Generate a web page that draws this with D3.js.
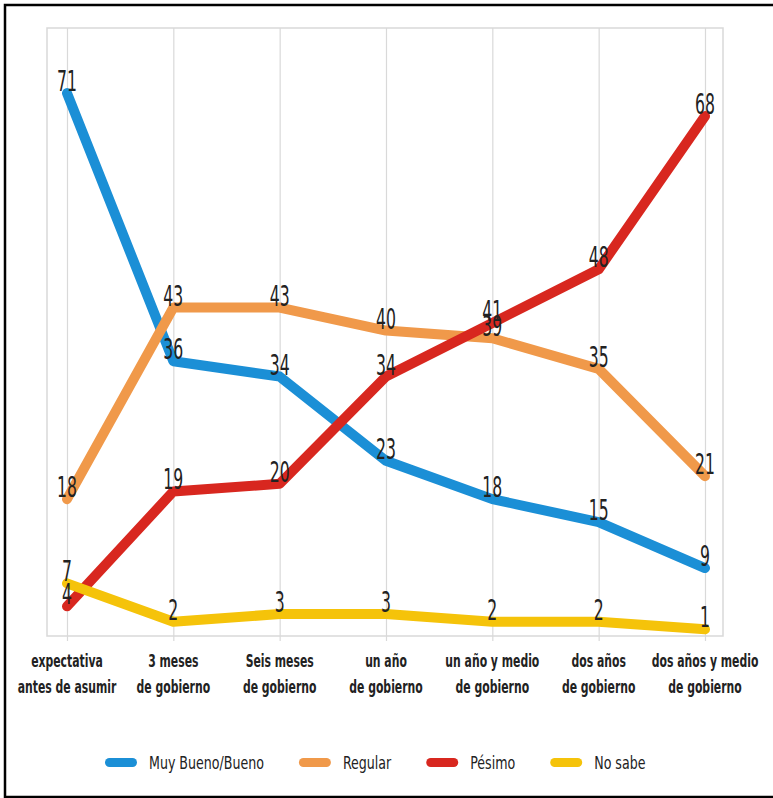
<!DOCTYPE html>
<html>
<head>
<meta charset="utf-8">
<script src="https://cdn.jsdelivr.net/npm/d3@7"></script>
<style>
  html, body { margin: 0; padding: 0; background: #fff; }
  svg { display: block; }
</style>
</head>
<body>
<script>
// categorías del eje x (dos renglones cada una)
const categories = [
  ['expectativa', 'antes de asumir'],
  ['3 meses', 'de gobierno'],
  ['Seis meses', 'de gobierno'],
  ['un año', 'de gobierno'],
  ['un año y medio', 'de gobierno'],
  ['dos años', 'de gobierno'],
  ['dos años y medio', 'de gobierno']
]

const seriesNames = ['Muy Bueno/Bueno', 'Regular', 'Pésimo', 'No sabe']
const muyBueno = [71, 36, 34, 23, 18, 15, 9]
const regular = [18, 43, 43, 40, 39, 35, 21]
const pesimo = [4, 19, 20, 34, 41, 48, 68]
const noSabe = [7, 2, 3, 3, 2, 2, 1]
const seriesColors = ['#1b8fd6', '#f0994a', '#d8271f', '#f5c30a']

const series = seriesNames.map((name, i) => ({
  name,
  color: seriesColors[i],
  values: [muyBueno, regular, pesimo, noSabe][i]
}))

const W = 773
const H = 798
const plot = { left: 47, right: 723, top: 28, bottom: 636 }
const fontFamily = '"DejaVu Sans Condensed", "Liberation Sans", sans-serif'

const svg = d3.select('body')
  .append('svg')
  .attr('width', W)
  .attr('height', H)

// marco exterior (izquierda, arriba, abajo)
svg.append('path')
  .attr('d', `M${W},5 H5 V797 H${W}`)
  .attr('fill', 'none')
  .attr('stroke', '#000')
  .attr('stroke-width', 2.5)

const xScale = d3.scalePoint()
  .domain(d3.range(categories.length))
  .range([67, 705])

const yScale = d3.scaleLinear()
  .domain([0, 79.5])
  .range([637, plot.top])

// área de trazado
svg.append('rect')
  .attr('x', plot.left)
  .attr('y', plot.top)
  .attr('width', plot.right - plot.left)
  .attr('height', plot.bottom - plot.top)
  .attr('fill', 'none')
  .attr('stroke', '#d9d9d9')
  .attr('stroke-width', 1.5)

// líneas verticales de cuadrícula
svg.append('g')
  .attr('class', 'grid')
  .attr('transform', `translate(0,${plot.bottom + 5})`)
  .call(d3.axisBottom(xScale).tickSize(-(plot.bottom + 5 - plot.top)).tickFormat(''))
  .call(g => g.select('.domain').remove())
  .call(g => g.selectAll('line').attr('stroke', '#d9d9d9').attr('stroke-width', 1.2))

// etiquetas del eje x
const xLabels = svg.append('g')
  .attr('font-family', fontFamily)
  .attr('font-weight', 'bold')
  .attr('font-size', 17)
  .attr('fill', '#222')
  .attr('text-anchor', 'middle')

categories.forEach((lines, i) => {
  lines.forEach((line, j) => {
    xLabels.append('text')
      .attr('transform', `translate(${xScale(i)},${667 + j * 26}) scale(0.71,1)`)
      .text(line)
  })
})

// líneas de las series
const line = d3.line()
  .x((d, i) => xScale(i))
  .y(d => yScale(d))

svg.append('g')
  .selectAll('path')
  .data(series)
  .join('path')
  .attr('d', d => line(d.values))
  .attr('fill', 'none')
  .attr('stroke', d => d.color)
  .attr('stroke-width', 10)
  .attr('stroke-linejoin', 'round')
  .attr('stroke-linecap', 'round')

// rótulos de datos
const labels = svg.append('g')
  .attr('font-family', fontFamily)
  .attr('font-size', 29)
  .attr('fill', '#222')
  .attr('text-anchor', 'middle')

series.forEach(s => {
  s.values.forEach((v, i) => {
    labels.append('text')
      .attr('transform', `translate(${xScale(i)},${yScale(v) - 2}) scale(0.6,1)`)
      .text(v)
  })
})

// leyenda
const legend = svg.append('g')
  .attr('font-family', fontFamily)
  .attr('font-size', 18)
  .attr('fill', '#222')

let lx = 105
series.forEach(s => {
  legend.append('rect')
    .attr('x', lx)
    .attr('y', 758)
    .attr('width', 32)
    .attr('height', 9)
    .attr('rx', 4.5)
    .attr('fill', s.color)
  const t = legend.append('text')
    .attr('transform', `translate(${lx + 44},769) scale(0.78,1)`)
    .text(s.name)
  lx += 44 + t.node().getComputedTextLength() * 0.78 + 35
})
</script>
</body>
</html>
